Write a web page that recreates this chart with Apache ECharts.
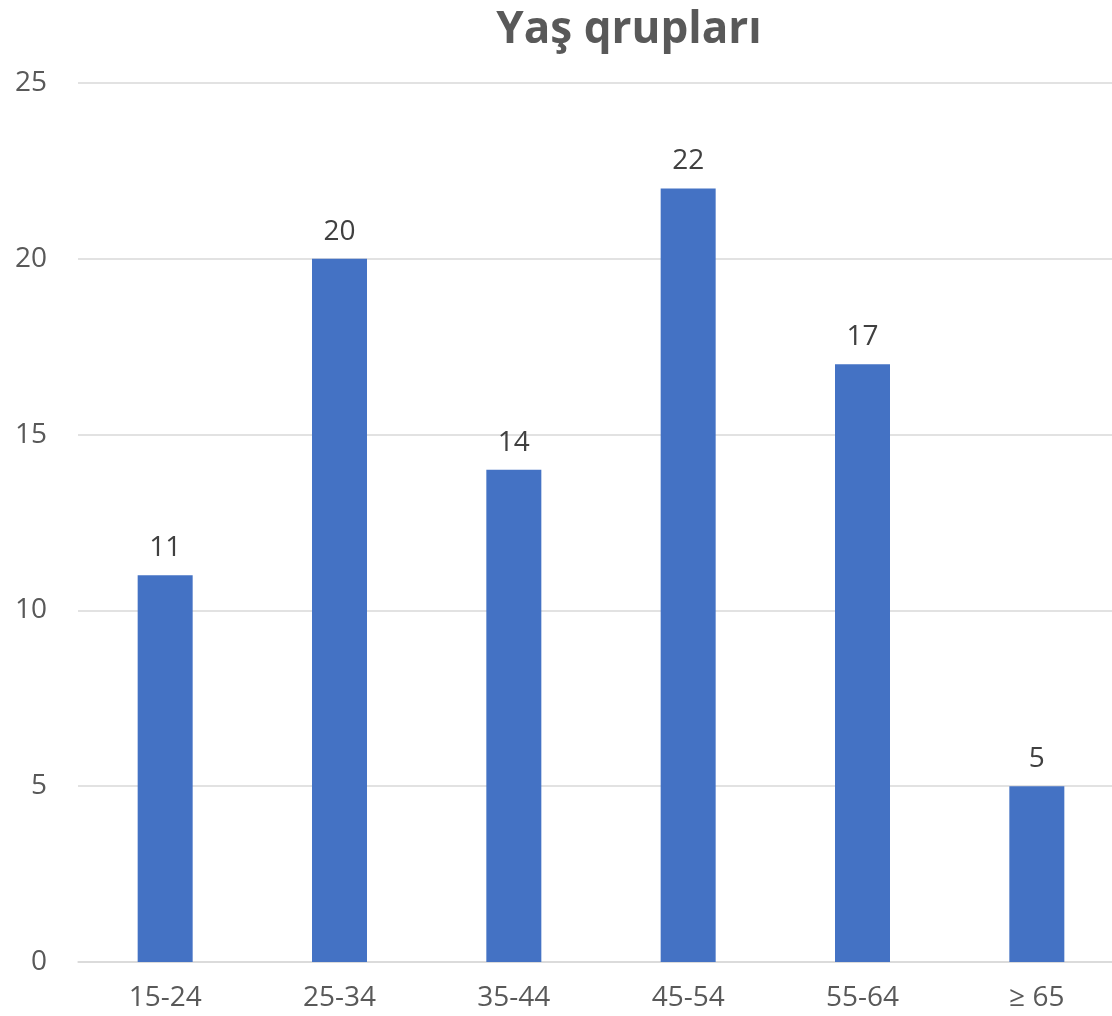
<!DOCTYPE html>
<html>
<head>
<meta charset="utf-8">
<title>Yaş qrupları</title>
<script src="https://cdn.jsdelivr.net/npm/echarts@6/dist/echarts.min.js"></script>
<style>
  html, body { margin: 0; padding: 0; background: #ffffff; }
  #chart { width: 1112px; height: 1016px; }
</style>
</head>
<body>
<div id="chart"></div>
<script>
// Age groups and respondent counts
const categories = ['15-24', '25-34', '35-44', '45-54', '55-64', '≥ 65'];
const counts = [11, 20, 14, 22, 17, 5];
const yTicks = { min: 0, max: 25, interval: 5 };

const chart = echarts.init(document.getElementById('chart'), null, { renderer: 'canvas' });

const FONT = '"Open Sans", "Noto Sans", sans-serif';

chart.setOption({
  animation: false,
  backgroundColor: '#ffffff',
  title: {
    text: 'Yaş qrupları',
    left: 624,
    textAlign: 'center',
    top: 3,
    textStyle: {
      fontFamily: FONT,
      fontSize: 44,
      fontWeight: 'bold',
      color: '#595959'
    }
  },
  // plot area runs slightly past the right edge of the canvas
  grid: {
    left: 78,
    width: 1046,
    top: 83,
    bottom: 54,
    containLabel: false,
    outerBoundsMode: 'none'
  },
  xAxis: {
    type: 'category',
    data: categories,
    axisTick: { show: false },
    axisLine: { show: true, lineStyle: { color: '#d9d9d9', width: 1.5 } },
    axisLabel: {
      margin: 22,
      fontFamily: FONT,
      fontSize: 28,
      color: '#595959'
    }
  },
  yAxis: {
    type: 'value',
    min: yTicks.min,
    max: yTicks.max,
    interval: yTicks.interval,
    axisLine: { show: false },
    axisTick: { show: false },
    splitLine: { lineStyle: { color: '#d9d9d9', width: 1.5 } },
    axisLabel: {
      margin: 31,
      fontFamily: FONT,
      fontSize: 28,
      color: '#595959'
    }
  },
  series: [{
    type: 'bar',
    data: counts,
    barWidth: 55,
    itemStyle: { color: '#4472c4' },
    label: {
      show: true,
      position: 'top',
      distance: 13,
      fontFamily: FONT,
      fontSize: 28,
      color: '#404040'
    }
  }]
});
</script>
</body>
</html>
